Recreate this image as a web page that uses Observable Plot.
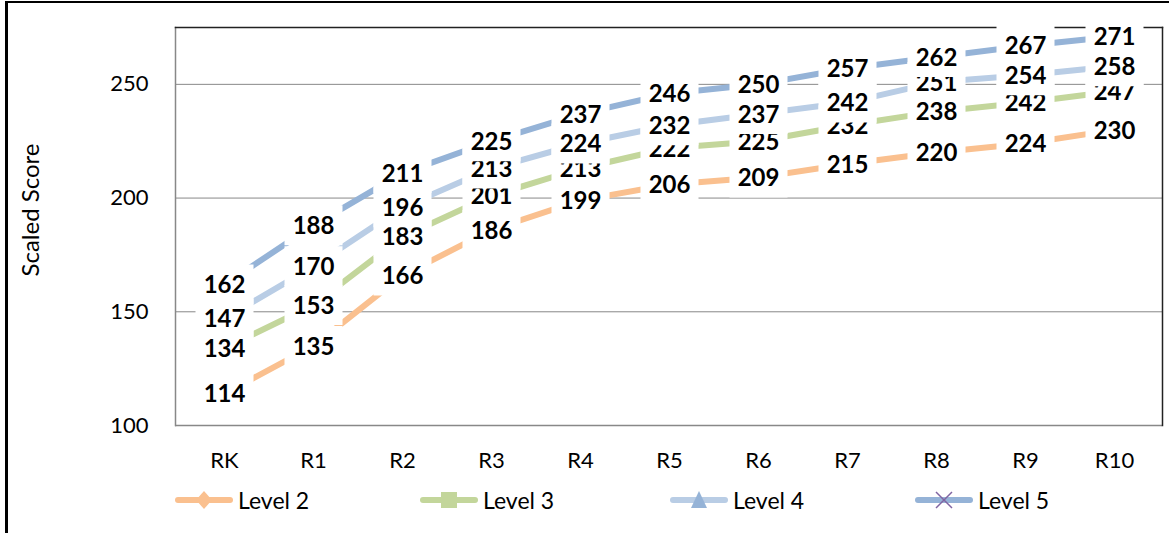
<!DOCTYPE html>
<html><head><meta charset="utf-8">
<script src="https://cdn.jsdelivr.net/npm/d3@7"></script>
<script src="https://cdn.jsdelivr.net/npm/@observablehq/plot@0.6"></script>
<style>
body{margin:0;background:#fff;font-family:Lato, "Open Sans", sans-serif;}
#wrap{position:relative;width:1169px;height:533px;overflow:hidden;background:#fff;}
#border{position:absolute;left:5px;top:1px;width:1200px;height:600px;border-left:3px solid #000;border-top:2px solid #000;}
#chart{position:absolute;left:0;top:0;}
#ytitle{position:absolute;left:29px;top:210px;transform:translate(-50%,-50%) rotate(-90deg);font-size:24px;white-space:nowrap;color:#000;}
.leg{position:absolute;top:486px;display:flex;align-items:center;font-size:23px;color:#000;}
.leg svg{display:block;margin-right:5px;}
</style></head>
<body>
<div id="wrap">
  <div id="border"></div>
  <div id="chart"></div>
  <div id="ytitle">Scaled Score</div>
  <div id="legend"></div>
</div>
<script>
const categories = ["RK","R1","R2","R3","R4","R5","R6","R7","R8","R9","R10"];
const level2 = [114,135,166,186,199,206,209,215,220,224,230];
const level3 = [134,153,183,201,213,222,225,232,238,242,247];
const level4 = [147,170,196,213,224,232,237,242,251,254,258];
const level5 = [162,188,211,225,237,246,250,257,262,267,271];
const seriesNames = ["Level 2","Level 3","Level 4","Level 5"];
const lineColors = ["#FAC08F","#C3D69B","#B9CDE5","#95B3D7"];
const markerColors = ["#FAC08F","#C3D69B","#95B3D7","#8064A2"];
const markerShapes = ["diamond","square","triangle","x"];
const yTicks = [100,150,200,250];

const seriesValues = [level2, level3, level4, level5];
const series = seriesNames.map((name, i) => categories.map((c, j) => ({level: name, cat: c, value: seriesValues[i][j]})));

const boxSymbol = {draw(ctx){ ctx.rect(-29, -20, 58, 40); }};

const marks = [
  Plot.ruleY([150,200,250], {stroke:"#888", strokeWidth:1}),
  Plot.ruleY([100], {stroke:"#888", strokeWidth:1.5}),
  Plot.frame({anchor:"left", stroke:"#888", strokeWidth:1.5}),
  Plot.frame({anchor:"top", stroke:"#222", strokeWidth:1.5}),
  Plot.frame({anchor:"right", stroke:"#222", strokeWidth:1.5}),
  Plot.axisY({ticks: yTicks, tickSize:0, tickPadding:27, fontSize:22, label:null}),
  Plot.axisX({tickSize:0, tickPadding:27, fontSize:22, label:null})
];
series.forEach((rows, i) => {
  marks.push(Plot.line(rows, {x:"cat", y:"value", stroke: lineColors[i], strokeWidth:6, strokeLinecap:"butt"}));
});
series.forEach((rows, i) => {
  marks.push(Plot.dot(rows, {x:"cat", y:"value", symbol: boxSymbol, fill:"white", stroke:"none"}));
  marks.push(Plot.text(rows, {x:"cat", y:"value", text: d => String(d.value), fontSize:24, fontWeight:"bold", fill:"#000", dy:1}));
});

const chart = Plot.plot({
  width: 1169,
  height: 485,
  marginLeft: 175,
  marginRight: 7,
  marginTop: 27,
  marginBottom: 60,
  style: {fontFamily: "Lato, 'Open Sans', sans-serif", fontSize: "22px", color: "#000", background: "transparent", overflow: "visible"},
  x: {type: "point", domain: categories, padding: 0.5},
  y: {domain: [100, 275]},
  marks
});
document.getElementById("chart").appendChild(chart);

// legend
const legendLeft = [175, 420, 670, 915];
const legend = document.getElementById("legend");
seriesNames.forEach((name, i) => {
  const item = document.createElement("div");
  item.className = "leg";
  item.style.left = legendLeft[i] + "px";
  const ns = "http://www.w3.org/2000/svg";
  const svg = document.createElementNS(ns, "svg");
  svg.setAttribute("width", 58); svg.setAttribute("height", 26);
  const ln = document.createElementNS(ns, "line");
  ln.setAttribute("x1", 3); ln.setAttribute("x2", 55); ln.setAttribute("y1", 13); ln.setAttribute("y2", 13);
  ln.setAttribute("stroke", lineColors[i]); ln.setAttribute("stroke-width", 6); ln.setAttribute("stroke-linecap", "round");
  svg.appendChild(ln);
  const shape = markerShapes[i];
  let m;
  if (shape === "diamond") {
    m = document.createElementNS(ns, "path");
    m.setAttribute("d", "M29,4 L37,13 L29,22 L21,13 Z");
    m.setAttribute("fill", markerColors[i]);
  } else if (shape === "square") {
    m = document.createElementNS(ns, "rect");
    m.setAttribute("x", 21); m.setAttribute("y", 5); m.setAttribute("width", 16); m.setAttribute("height", 16);
    m.setAttribute("fill", markerColors[i]);
  } else if (shape === "triangle") {
    m = document.createElementNS(ns, "path");
    m.setAttribute("d", "M29,4 L37,21 L21,21 Z");
    m.setAttribute("fill", markerColors[i]);
  } else {
    m = document.createElementNS(ns, "path");
    m.setAttribute("d", "M21,5 L37,21 M37,5 L21,21");
    m.setAttribute("stroke", markerColors[i]); m.setAttribute("stroke-width", 1.5); m.setAttribute("fill", "none");
  }
  svg.appendChild(m);
  item.appendChild(svg);
  const t = document.createElement("span");
  t.textContent = name;
  item.appendChild(t);
  legend.appendChild(item);
});
</script>
</body></html>
